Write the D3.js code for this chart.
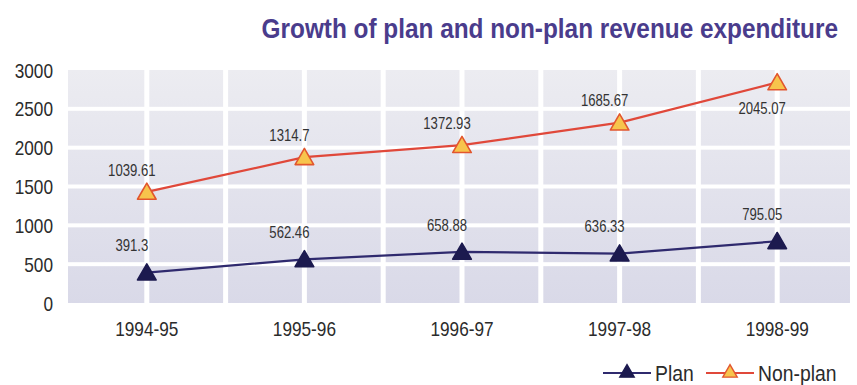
<!DOCTYPE html>
<html>
<head>
<meta charset="utf-8">
<script src="https://cdn.jsdelivr.net/npm/d3@7"></script>
<style>
  html, body { margin: 0; padding: 0; background: #ffffff; }
  svg { display: block; }
  .narrow { font-family: "Liberation Sans Narrow", "Arial Narrow", "Liberation Sans", Arial, sans-serif; }
</style>
</head>
<body>
<svg id="chart" width="857" height="385"></svg>
<script>
// Revenue expenditure by year (plan and non-plan components)
const years = ["1994-95", "1995-96", "1996-97", "1997-98", "1998-99"];
const planValues = [391.3, 562.46, 658.88, 636.33, 795.05];
const nonPlanValues = [1039.61, 1314.7, 1372.93, 1685.67, 2045.07];
const yTicks = [0, 500, 1000, 1500, 2000, 2500, 3000];
const seriesNames = ["Plan", "Non-plan"];

const plot = { left: 68, right: 850, top: 70, bottom: 303 };
const NARROW = 0.82; // horizontal squeeze for a condensed sans look

const svg = d3.select("#chart");

// Place condensed text: position by translate, then squeeze horizontally
function placeText(sel, fx, fy, k = NARROW) {
  return sel.attr("x", 0).attr("y", 0)
    .attr("transform", (d, i) => `translate(${fx(d, i)},${fy(d, i)}) scale(${k},1)`);
}

const x = d3.scaleBand().domain(years).range([plot.left, 856]).paddingInner(0).paddingOuter(0);
const cx = d => x(d) + x.bandwidth() / 2;
const y = d3.scaleLinear().domain([0, 3000]).range([plot.bottom, plot.top]);

// Stack non-plan on top of plan
const rows = years.map((yr, i) => ({ year: yr, plan: planValues[i], nonPlan: nonPlanValues[i] }));
const stacked = d3.stack().keys(["plan", "nonPlan"])(rows);

// Background panel: soft gradient cells separated by white gutters
const defs = svg.append("defs");
const grad = defs.append("linearGradient").attr("id", "panelGrad")
  .attr("gradientUnits", "userSpaceOnUse")
  .attr("x1", 0).attr("y1", plot.top).attr("x2", 0).attr("y2", plot.bottom);
grad.append("stop").attr("offset", "0%").attr("stop-color", "#ececf1");
grad.append("stop").attr("offset", "100%").attr("stop-color", "#d9d9e8");
defs.append("clipPath").attr("id", "plotClip").append("rect")
  .attr("x", plot.left).attr("y", plot.top - 2)
  .attr("width", plot.right - plot.left).attr("height", plot.bottom - plot.top + 2);

const cellsG = svg.append("g").attr("clip-path", "url(#plotClip)");
const vEdges = [];
years.forEach(yr => { vEdges.push(x(yr)); vEdges.push(cx(yr)); });
vEdges.push(x(years[years.length - 1]) + x.bandwidth());
const gapV = 5, gapH = 4;
for (let i = 0; i < vEdges.length - 1; i++) {
  for (let j = 0; j < yTicks.length - 1; j++) {
    const x0 = vEdges[i] + (i === 0 ? 0 : gapV / 2);
    const x1 = vEdges[i + 1] - gapV / 2;
    const yTop = y(yTicks[j + 1]) + (j === yTicks.length - 2 ? 0 : gapH / 2);
    const yBot = y(yTicks[j]) - (j === 0 ? 0 : gapH / 2);
    cellsG.append("rect")
      .attr("x", x0).attr("y", yTop)
      .attr("width", Math.max(0, x1 - x0)).attr("height", yBot - yTop)
      .attr("fill", "url(#panelGrad)");
  }
}

// Title
placeText(svg.append("text").datum(0).attr("class", "narrow")
  .attr("text-anchor", "end")
  .attr("font-size", 28).attr("font-weight", "bold")
  .attr("fill", "#4a3c8c")
  .text("Growth of plan and non-plan revenue expenditure"), () => 838, () => 38, 0.87);

// Y axis labels
placeText(svg.append("g").selectAll("text").data(yTicks).join("text")
  .attr("class", "narrow").attr("dy", "0.36em")
  .attr("text-anchor", "end").attr("font-size", 21).attr("fill", "#2b2b2b")
  .text(d => d), () => 53, d => y(d));

// X axis labels
placeText(svg.append("g").selectAll("text").data(years).join("text")
  .attr("class", "narrow").attr("dy", "0.36em")
  .attr("text-anchor", "middle").attr("font-size", 21).attr("fill", "#2b2b2b")
  .text(d => d), d => cx(d), () => 328);

const styles = {
  plan: { line: "#2f2a6e", fill: "#1c1a4f", stroke: "#1c1a4f" },
  nonPlan: { line: "#e0483a", fill: "#f7c44c", stroke: "#e2562e" }
};
const tri = d3.symbol().type(d3.symbolTriangle).size(150);
const line = d3.line().x(d => cx(d.data.year)).y(d => y(d[1]));

stacked.forEach(s => {
  const st = styles[s.key];
  svg.append("path").datum(s)
    .attr("d", line).attr("fill", "none")
    .attr("stroke", st.line).attr("stroke-width", 2.2);
});

stacked.forEach(s => {
  const st = styles[s.key];
  svg.append("g").selectAll("path").data(s).join("path")
    .attr("d", tri)
    .attr("transform", d => `translate(${cx(d.data.year)},${y(d[1]) + 2})`)
    .attr("fill", st.fill).attr("stroke", st.stroke).attr("stroke-width", 1.6)
    .attr("stroke-linejoin", "round");
});

// Value labels
const last = years.length - 1;
stacked.forEach(s => {
  placeText(svg.append("g").selectAll("text").data(s).join("text")
    .attr("class", "narrow").attr("dy", "0.36em")
    .attr("text-anchor", "middle").attr("font-size", 16).attr("fill", "#333333")
    .text(d => d.data[s.key]),
    d => cx(d.data.year) - 15,
    (d, i) => {
      const py = y(d[1]);
      if (s.key === "plan") return py - 27;
      return i === last ? py + 26 : py - 22;
    });
});

// Legend
const legend = svg.append("g");
const legendItems = [
  { key: "plan", name: seriesNames[0], x0: 603 },
  { key: "nonPlan", name: seriesNames[1], x0: 706 }
];
const ly = 373;
legendItems.forEach(it => {
  const st = styles[it.key];
  legend.append("line").attr("x1", it.x0).attr("x2", it.x0 + 48)
    .attr("y1", ly).attr("y2", ly).attr("stroke", st.line).attr("stroke-width", 2);
  legend.append("path").attr("d", d3.symbol().type(d3.symbolTriangle).size(90)())
    .attr("transform", `translate(${it.x0 + 24},${ly})`)
    .attr("fill", st.fill).attr("stroke", st.stroke).attr("stroke-width", 1.4);
  placeText(legend.append("text").datum(0).attr("class", "narrow")
    .attr("dy", "0.36em")
    .attr("font-size", 22).attr("fill", "#2b2b2b").text(it.name),
    () => it.x0 + 52, () => ly, 0.88);
});
</script>
</body>
</html>
